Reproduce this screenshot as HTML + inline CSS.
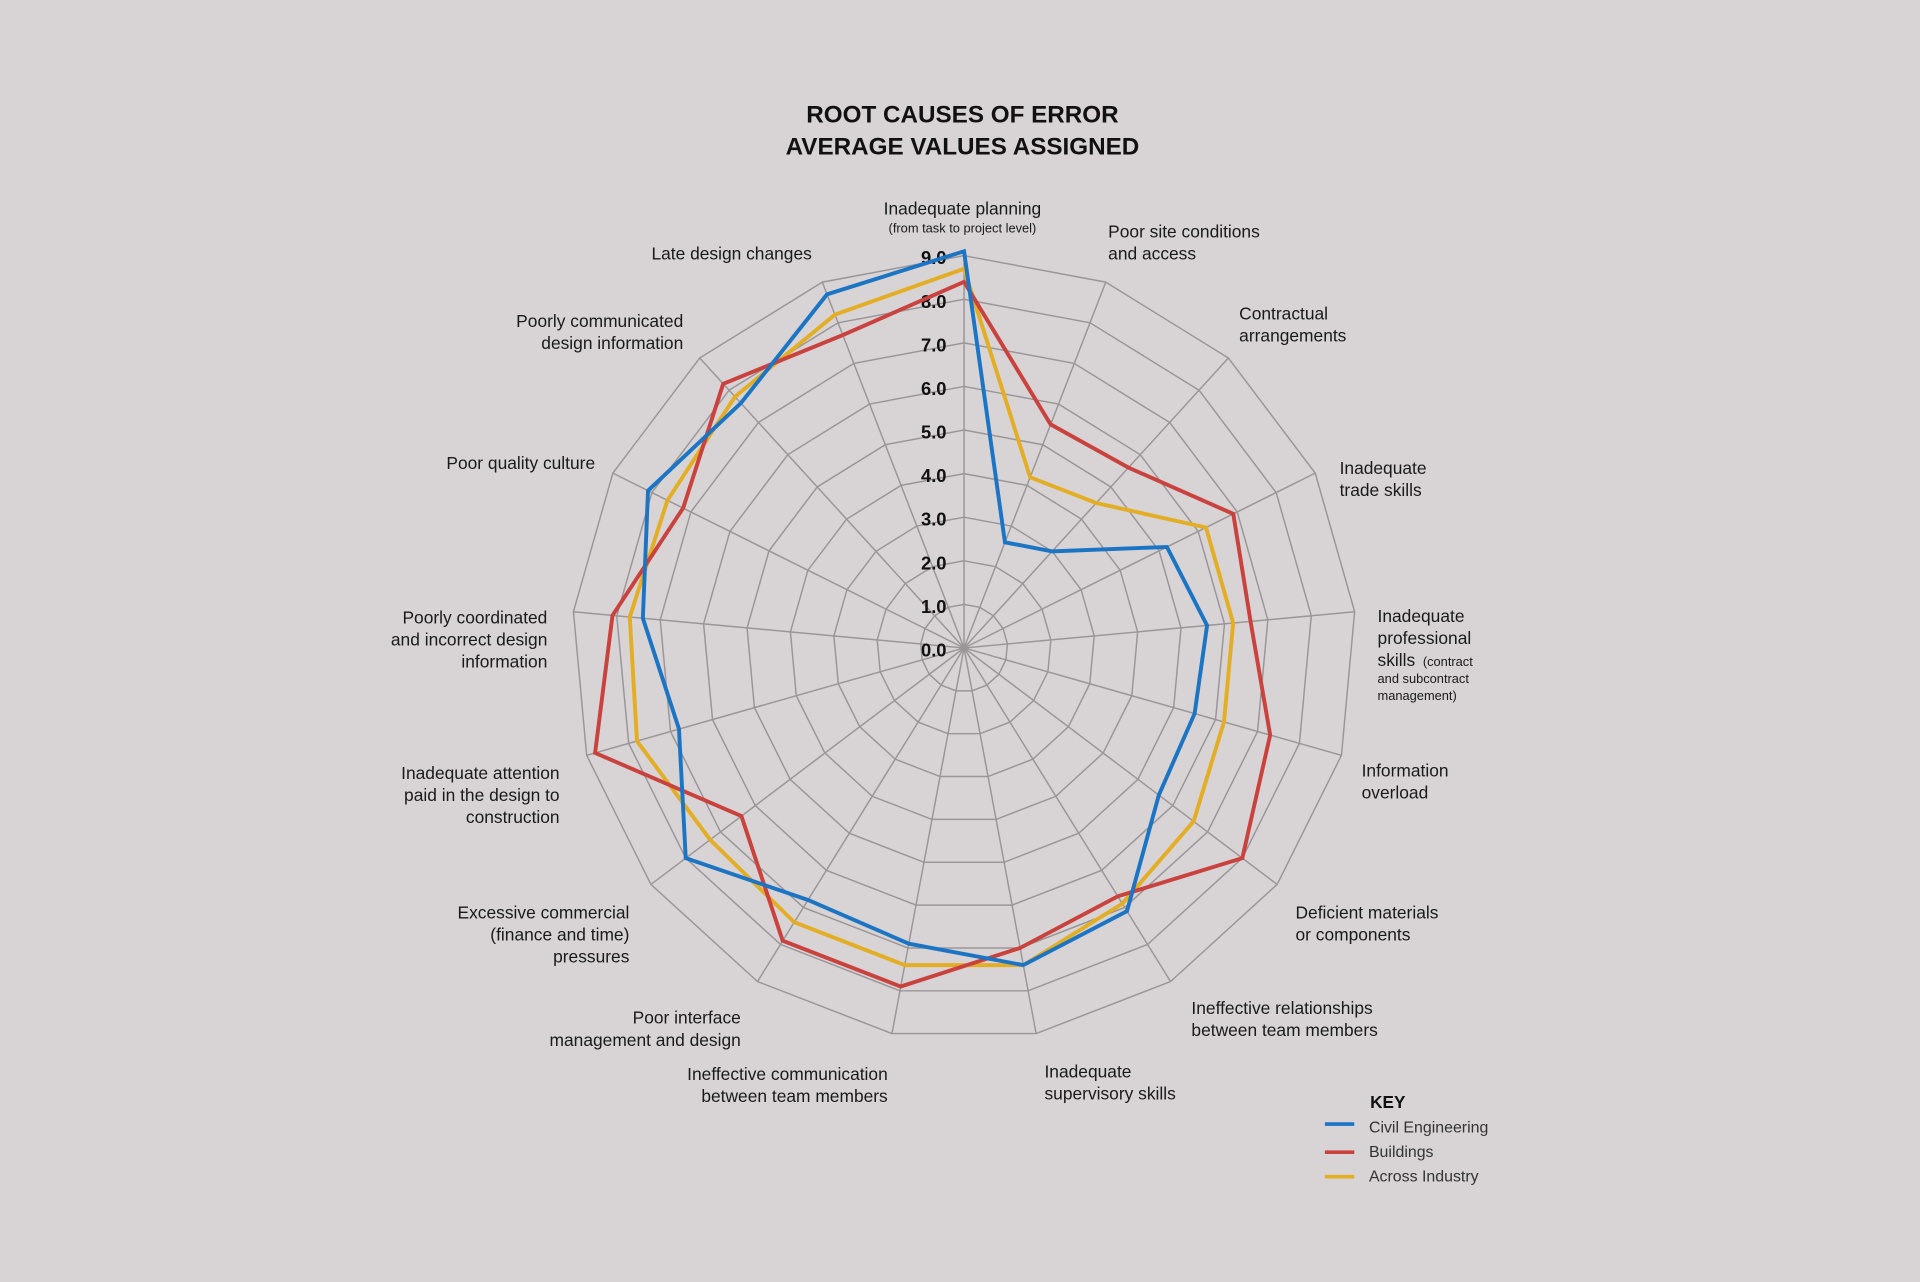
<!DOCTYPE html>
<html><head><meta charset="utf-8"><style>
html,body{margin:0;padding:0;background:#d8d3d5;}
svg{display:block;font-family:"Liberation Sans",sans-serif;}
</style></head><body>
<svg id="chart" width="1920" height="1282" viewBox="0 0 1568 1047" xmlns="http://www.w3.org/2000/svg">
<rect width="1568" height="1047" fill="#d8d3d5"/>
<text x="786" y="100" text-anchor="middle" font-size="19.8" font-weight="bold" fill="#111">ROOT CAUSES OF ERROR</text>
<text x="786" y="126" text-anchor="middle" font-size="19.8" font-weight="bold" fill="#111">AVERAGE VALUES ASSIGNED</text>
<g id="grid"></g>
<g id="ticks"></g>
<g id="series"></g>
<g id="labels" font-size="14.2" fill="#1a1a1a"></g>
<g>
<text x="1119" y="905" font-size="14" font-weight="bold" fill="#111">KEY</text>
<line x1="1082" y1="918" x2="1106" y2="918" stroke="#1b75c4" stroke-width="3"/>
<text x="1118" y="925" font-size="13" fill="#333">Civil Engineering</text>
<line x1="1082" y1="941" x2="1106" y2="941" stroke="#c9423e" stroke-width="3"/>
<text x="1118" y="945" font-size="13" fill="#333">Buildings</text>
<line x1="1082" y1="961" x2="1106" y2="961" stroke="#e3ae24" stroke-width="3"/>
<text x="1118" y="965" font-size="13" fill="#333">Across Industry</text>
</g>
</svg>
<script>
const categories = ["Inadequate planning","Poor site conditions and access","Contractual arrangements","Inadequate trade skills","Inadequate professional skills","Information overload","Deficient materials or components","Ineffective relationships between team members","Inadequate supervisory skills","Ineffective communication between team members","Poor interface management and design","Excessive commercial pressures","Inadequate attention paid in the design to construction","Poorly coordinated and incorrect design information","Poor quality culture","Poorly communicated design information","Late design changes"];
const civilValues = [9.1,2.6,3.0,5.2,5.6,5.5,5.6,7.1,7.4,6.9,6.8,8.0,6.8,7.4,8.1,7.6,8.7];
const buildingsValues = [8.4,5.5,5.6,6.9,6.6,7.3,8.0,6.7,7.0,7.9,7.9,6.4,8.8,8.1,7.2,8.2,7.7];
const industryValues = [8.7,4.2,4.5,6.2,6.2,6.2,6.6,6.9,7.4,7.4,7.4,7.3,7.8,7.7,7.6,7.8,8.2];
const tickValues = [0,1,2,3,4,5,6,7,8,9];
const tickLabels = ["0.0","1.0","2.0","3.0","4.0","5.0","6.0","7.0","8.0","9.0"];

const NS="http://www.w3.org/2000/svg";
const cx=787.3, cy=529.2, unit=35.6, maxV=9;
const N=categories.length;
function angle(i){return i*2*Math.PI/N;}
function px(i,v){return cx+Math.sin(angle(i))*v*unit;}
function py(i,v){return cy-Math.cos(angle(i))*v*unit;}
function mk(tag,attrs,parent){const e=document.createElementNS(NS,tag);for(const k in attrs)e.setAttribute(k,attrs[k]);parent.appendChild(e);return e;}

const grid=document.getElementById('grid');
for(let r=1;r<=maxV;r++){
  let pts=[];for(let i=0;i<N;i++)pts.push(px(i,r).toFixed(1)+","+py(i,r).toFixed(1));
  const p=mk('polygon',{points:pts.join(" "),fill:"none",stroke:"#9a9698","stroke-width":"1.2"},grid);
  
  
}
for(let i=0;i<N;i++){
  const l=mk('line',{x1:cx,y1:cy,x2:px(i,maxV),y2:py(i,maxV),stroke:"#9a9698","stroke-width":"1.2"},grid);
  
  
}
const ticks=document.getElementById('ticks');
tickValues.forEach((v,k)=>{
  const t=mk('text',{x:773,y:cy-v*unit+3,"text-anchor":"end","dominant-baseline":"middle","font-size":"15","font-weight":"bold",fill:"#111"},ticks);
  t.textContent=tickLabels[k];
  
  
});
const series=document.getElementById('series');
[[industryValues,"#e3ae24","series-across-industry"],[buildingsValues,"#c9423e","series-buildings"],[civilValues,"#1b75c4","series-civil-engineering"]].forEach(([vals,col,name])=>{
  let pts=vals.map((v,i)=>px(i,v).toFixed(1)+","+py(i,v).toFixed(1));
  const p=mk('polygon',{points:pts.join(" "),fill:"none",stroke:col,"stroke-width":"3.2","stroke-linejoin":"miter"},series);
  
  
});
const labelDefs=[
 [["Inadequate planning"],786,171,"middle"],
 [["Poor site conditions","and access"],905,190,"start"],
 [["Contractual","arrangements"],1012,257,"start"],
 [["Inadequate","trade skills"],1094,383,"start"],
 [["Inadequate","professional","skills"],1125,504,"start"],
 [["Information","overload"],1112,630,"start"],
 [["Deficient materials","or components"],1058,746,"start"],
 [["Ineffective relationships","between team members"],973,824,"start"],
 [["Inadequate","supervisory skills"],853,876,"start"],
 [["Ineffective communication","between team members"],725,878,"end"],
 [["Poor interface","management and design"],605,832,"end"],
 [["Excessive commercial","(finance and time)","pressures"],514,746,"end"],
 [["Inadequate attention","paid in the design to","construction"],457,632,"end"],
 [["Poorly coordinated","and incorrect design","information"],447,505,"end"],
 [["Poor quality culture"],486,379,"end"],
 [["Poorly communicated","design information"],558,263,"end"],
 [["Late design changes"],663,208,"end"]
];
const labels=document.getElementById('labels');
labelDefs.forEach((d,i)=>{
  const t=mk('text',{x:d[1],y:d[2],"text-anchor":d[3],"dominant-baseline":"middle"},labels);
  
  
  d[0].forEach((s,j)=>{const ts=mk('tspan',{x:d[1],y:d[2]+j*18},t);ts.textContent=s;});
});
function small(txt,x,y,anchor,name){
  const t=mk('text',{x:x,y:y,"text-anchor":anchor,"dominant-baseline":"middle","font-size":"10.5",fill:"#1a1a1a"},labels);
  t.textContent=txt;
  
  
}
small("(from task to project level)",786,187,"middle","axis-sublabel-planning");
small("(contract",1162,541,"start","axis-sublabel-professional-1");
small("and subcontract",1125,555,"start","axis-sublabel-professional-2");
small("management)",1125,569,"start","axis-sublabel-professional-3");
</script>
</body></html>
